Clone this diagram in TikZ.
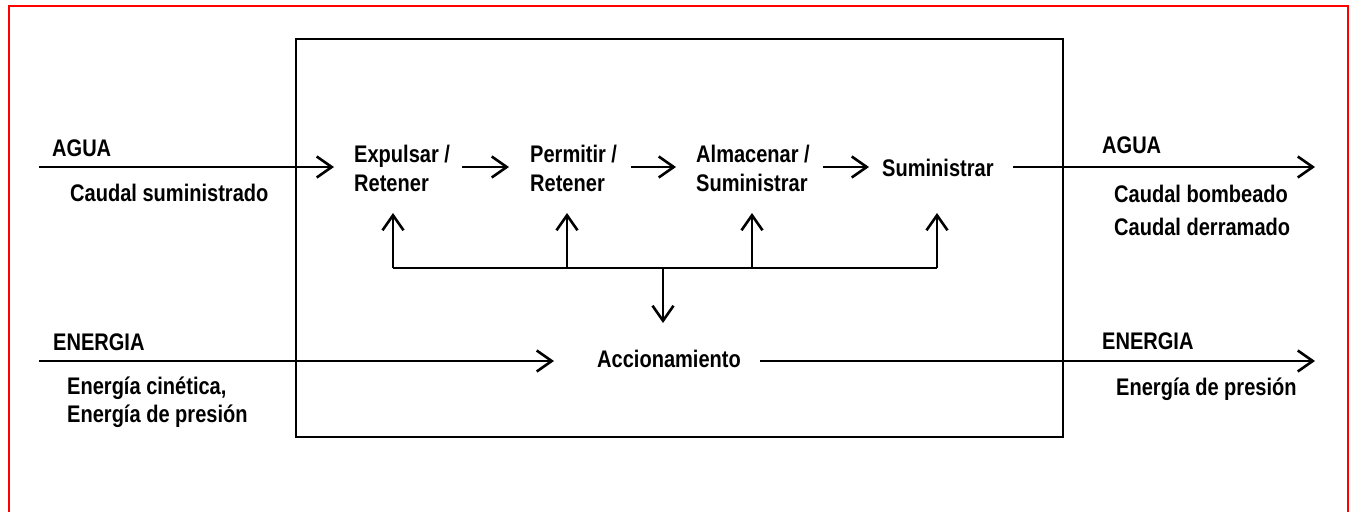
\documentclass[tikz,border=0pt]{standalone}
\usepackage{fontspec}
\setmainfont{Liberation Sans}[FakeStretch=0.835]
\usetikzlibrary{arrows.meta}
\begin{document}
\begin{tikzpicture}[x=1pt,y=-1pt,
  lbl/.style={inner sep=0pt, anchor=base west, align=left,
    font={\fontsize{24}{29}\selectfont\bfseries}},
  ln/.style={line width=2.6pt},
  arr/.style={ln, -{Straight Barb[length=15pt,width=21pt,line width=2.6pt]}}]
\useasboundingbox (0,0) rectangle (1351,512);
\fill[white] (0,0) rectangle (1351,512);
% red frame
\draw[red, line width=2pt] (8.5,512) -- (8.5,5.5) -- (1347.5,5.5) -- (1347.5,512);
% system box
\draw[ln] (296,39) rectangle (1063,437);

% left labels
\node[lbl] (aguaL) at (52,156) {AGUA};
\node[lbl] (caudalS) at (70,201) {Caudal suministrado};
\node[lbl] (energiaL) at (53,350) {ENERGIA};
\node[lbl, font={\fontsize{24}{28}\selectfont\bfseries}] (energiaIn) at (67,422) {Energía cinética,\\Energía de presión};

% process nodes
\node[lbl] (expulsar) at (354,191) {Expulsar /\\Retener};
\node[lbl] (permitir) at (530,191) {Permitir /\\Retener};
\node[lbl] (almacenar) at (696,191) {Almacenar /\\Suministrar};
\node[lbl] (suministrar) at (882,176) {Suministrar};
\node[lbl] (accion) at (597,367) {Accionamiento};

% right labels
\node[lbl] (aguaR) at (1102,153) {AGUA};
\node[lbl, font={\fontsize{24}{33}\selectfont\bfseries}] (caudalOut) at (1114,235) {Caudal bombeado\\Caudal derramado};
\node[lbl] (energiaR) at (1102,349) {ENERGIA};
\node[lbl] (energiaOut) at (1116,395) {Energía de presión};

% coordinates for connector ends
\coordinate (wIn) at (39,167);
\coordinate (wInEnd) at (334,167);
\coordinate (a1s) at (462,167);
\coordinate (a1e) at (509,167);
\coordinate (a2s) at (631,167);
\coordinate (a2e) at (676,167);
\coordinate (a3s) at (823,167);
\coordinate (a3e) at (869,167);
\coordinate (wOut) at (1013,167);
\coordinate (wOutEnd) at (1315,167);
\coordinate (eIn) at (39,361);
\coordinate (eInEnd) at (554,361);
\coordinate (eOut) at (760,361);
\coordinate (eOutEnd) at (1315,361);
\coordinate (b1) at (393,268);
\coordinate (b2) at (567,268);
\coordinate (b3) at (752,268);
\coordinate (b4) at (937,268);
\coordinate (bm) at (663,268);

% water flow
\draw[arr] (wIn) -- (wInEnd);
\draw[arr] (a1s) -- (a1e);
\draw[arr] (a2s) -- (a2e);
\draw[arr] (a3s) -- (a3e);
\draw[arr] (wOut) -- (wOutEnd);
% energy flow
\draw[arr] (eIn) -- (eInEnd);
\draw[arr] (eOut) -- (eOutEnd);
% distribution bus
\draw[ln] (b1) -- (b4);
\draw[arr] (b1) -- ++(0,-55);
\draw[arr] (b2) -- ++(0,-55);
\draw[arr] (b3) -- ++(0,-55);
\draw[arr] (b4) -- ++(0,-55);
\draw[arr] (bm) -- ++(0,55);
\end{tikzpicture}
\end{document}
